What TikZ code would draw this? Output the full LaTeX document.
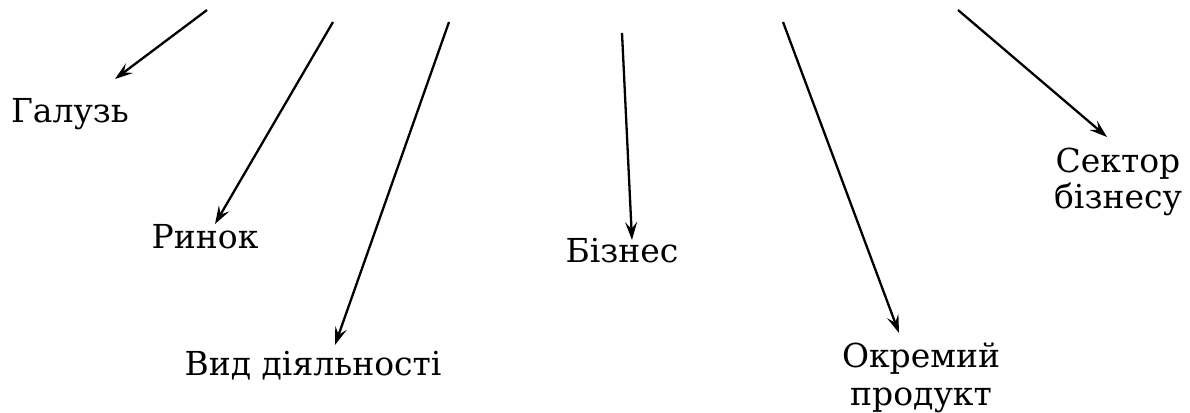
\documentclass[tikz,border=0pt]{standalone}
\usepackage{fontspec}
\setmainfont{DejaVu Serif}
\usetikzlibrary{arrows.meta}
\begin{document}
\begin{tikzpicture}[x=1pt,y=-1pt,
  lbl/.style={font=\fontsize{33}{36}\selectfont, inner sep=0pt, align=center},
  arr/.style={line width=2.3pt, -{Stealth[length=18pt,width=12pt,inset=7pt]}}]
\useasboundingbox (0,0) rectangle (1190,412);
\node[lbl, anchor=base] (galuz) at (70,122) {Галузь};
\node[lbl, anchor=base] (rynok) at (205,248) {Ринок};
\node[lbl, anchor=base] (vyd) at (313,375) {Вид діяльності};
\node[lbl, anchor=base, font=\fontsize{33}{38}\selectfont] (okr) at (921,405) {Окремий\\продукт};
\node[lbl, anchor=base] (biz) at (622,262) {Бізнес};
\node[lbl, anchor=base] (sek) at (1118,208) {Сектор\\бізнесу};
\coordinate (s1) at (207,10);  \coordinate (t1) at (115,79);
\coordinate (s2) at (333,22);  \coordinate (t2) at (215,224);
\coordinate (s3) at (449,22);  \coordinate (t3) at (335,345);
\coordinate (s4) at (622,33);  \coordinate (t4) at (632,240);
\coordinate (s5) at (783,22);  \coordinate (t5) at (899,333);
\coordinate (s6) at (958,10);  \coordinate (t6) at (1107,137);
\draw[arr] (s1) -- (t1);
\draw[arr] (s2) -- (t2);
\draw[arr] (s3) -- (t3);
\draw[arr] (s4) -- (t4);
\draw[arr] (s5) -- (t5);
\draw[arr] (s6) -- (t6);
\end{tikzpicture}
\end{document}
